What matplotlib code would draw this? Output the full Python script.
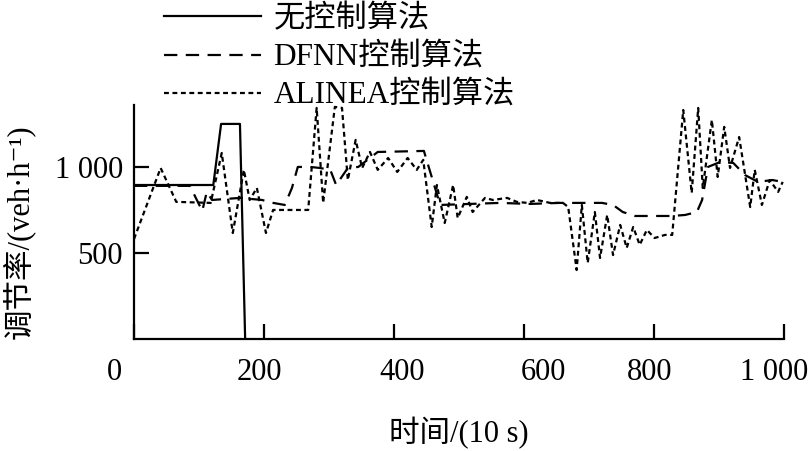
import matplotlib
matplotlib.use("Agg")
import matplotlib.pyplot as plt
from matplotlib.transforms import ScaledTranslation

plt.rcParams['font.family'] = ['Liberation Serif', 'Noto Sans CJK SC', 'DejaVu Sans']

# ---- data ----
none_x = [0, 122, 134, 163, 171]
none_y = [895, 895, 1250, 1250, 0]

dfnn_x = [0, 86, 105, 112, 120, 163, 197, 214, 232, 243, 252, 271, 286, 302, 311,
          329, 345, 375, 446, 471, 517, 563, 609, 655, 720, 737, 752, 771, 828,
          848, 866, 874, 883, 902, 922, 940, 960, 982, 998]
dfnn_y = [890, 890, 744, 855, 808, 820, 808, 791, 779, 878, 1000, 1000, 994, 983, 895,
          994, 1000, 1087, 1093, 779, 785, 791, 785, 791, 791, 779, 738, 715, 715,
          721, 738, 808, 1000, 1029, 1023, 953, 913, 924, 913]

alinea_x = [0, 41, 65, 118, 135, 152, 169, 178, 189, 203, 214, 268, 281, 291, 309,
            320, 329, 341, 351, 363, 375, 391, 405, 421, 435, 445, 458, 466, 478,
            491, 498, 512, 521, 540, 552, 574, 589, 605, 620, 640, 660, 668, 681,
            689, 698, 709, 717, 728, 737, 748, 758, 768, 778, 789, 801, 817, 828,
            845, 858, 868, 875, 889, 898, 908, 917, 931, 948, 955, 966, 978, 991, 998]
alinea_y = [581, 994, 797, 791, 1081, 616, 983, 808, 878, 616, 750, 750, 1343, 791, 1349,
            1343, 924, 1157, 994, 1087, 983, 1052, 971, 1052, 983, 1041, 651, 895, 674,
            895, 703, 826, 738, 820, 808, 820, 797, 791, 808, 791, 791, 767, 401,
            779, 442, 738, 471, 721, 488, 663, 529, 651, 547, 634, 587, 605, 605,
            1331, 849, 1343, 878, 1273, 942, 1233, 994, 1174, 767, 983, 779, 924, 855, 913]

labels = ['无控制算法', 'DFNN控制算法', 'ALINEA控制算法']
xticks = [0, 200, 400, 600, 800, 1000]
xtick_labels = ['0', '200', '400', '600', '800', '1 000']
yticks = [500, 1000]
ytick_labels = ['500', '1 000']

fig = plt.figure(figsize=(8.09, 4.51), dpi=100)
ax = fig.add_axes([134/809, 1-339/451, 650/809, 234/451])

lw = 1.6
l1, = ax.plot(none_x, none_y, color='black', lw=lw, linestyle='-')
l2, = ax.plot(dfnn_x, dfnn_y, color='black', lw=lw, dashes=(6, 3.8))
l3, = ax.plot(alinea_x, alinea_y, color='black', lw=lw, dashes=(2.2, 1.6))

ax.set_xlim(0, 1000)
ax.set_ylim(0, 1360)
ax.set_xticks(xticks)
ax.set_xticklabels(xtick_labels)
ax.set_yticks(yticks)
ax.set_yticklabels(ytick_labels)

for s in ['top', 'right']:
    ax.spines[s].set_visible(False)
for s in ['left', 'bottom']:
    ax.spines[s].set_linewidth(1.6)

ax.tick_params(direction='in', length=11, width=1.6, labelsize=22)
ax.tick_params(axis='x', pad=14)
ax.tick_params(axis='y', pad=8)

# horizontal offsets of x tick labels (pixels) as placed in the reference
label_shift_px = [-20, -5, 8, 19, -4, -10]
for lab, dx in zip(ax.get_xticklabels(), label_shift_px):
    lab.set_transform(lab.get_transform() + ScaledTranslation(dx / 100, 0, fig.dpi_scale_trans))

ax.set_xlabel('时间/(10 s)', fontsize=22)
ax.xaxis.set_label_coords(0.5, -0.335)
ax.set_ylabel('调节率/(veh·h⁻¹)', fontsize=22)
ax.yaxis.set_label_coords(-0.152, 0.457)

fig.legend([l1, l2, l3], labels, loc='upper left', bbox_to_anchor=(164/809, 1 - 5/451),
           frameon=False, fontsize=22.5, handlelength=3.1, handletextpad=0.4,
           labelspacing=0.3, borderpad=0, borderaxespad=0)

fig.savefig('out.png', dpi=100)
